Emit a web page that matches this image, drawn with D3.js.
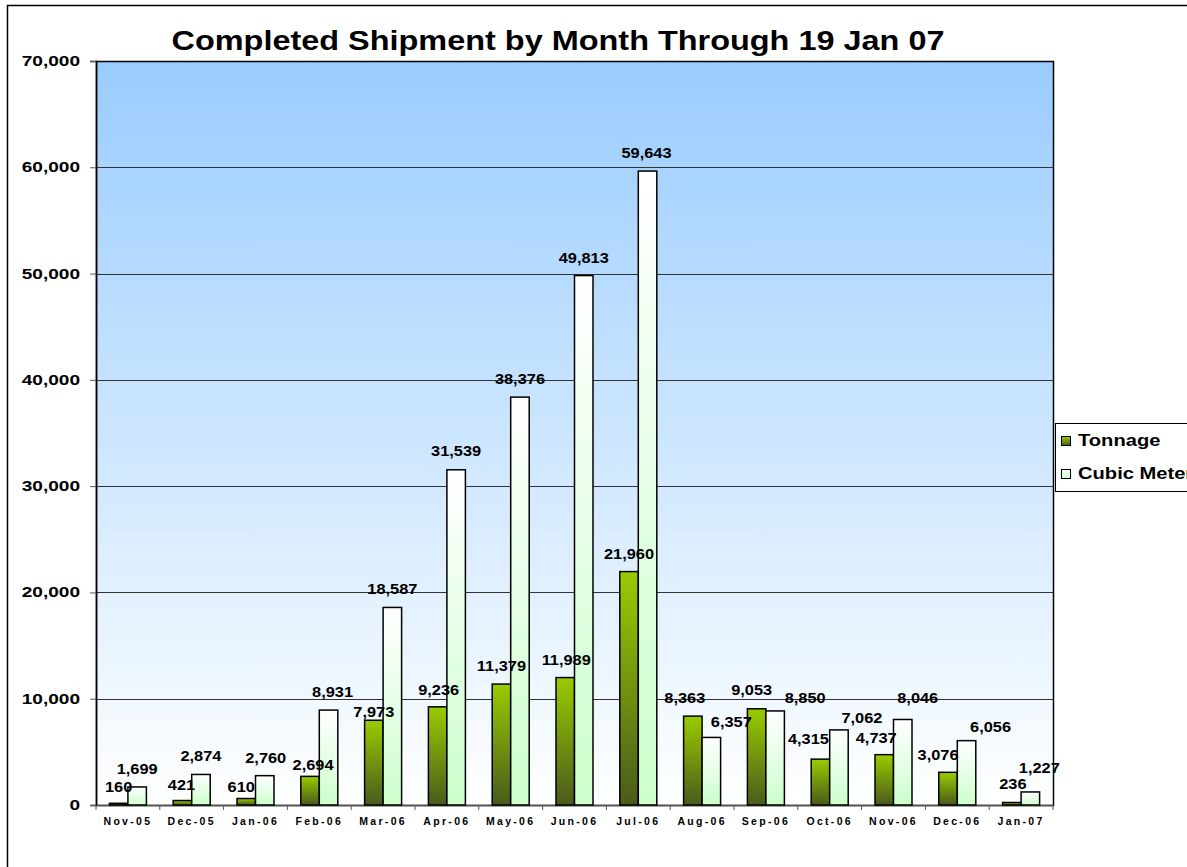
<!DOCTYPE html>
<html>
<head>
<meta charset="utf-8">
<script src="https://cdn.jsdelivr.net/npm/d3@7"></script>
<style>
  body { margin: 0; background: #fff; }
  text { font-family: Arial, "Liberation Sans", sans-serif; font-weight: bold; }
</style>
</head>
<body>
<svg id="chart"></svg>
<script>
// Chart data
const months = ["Nov-05", "Dec-05", "Jan-06", "Feb-06", "Mar-06", "Apr-06", "May-06", "Jun-06",
                "Jul-06", "Aug-06", "Sep-06", "Oct-06", "Nov-06", "Dec-06", "Jan-07"];
const tonnage = [160, 421, 610, 2694, 7973, 9236, 11379, 11989, 21960, 8363, 9053, 4315, 4737, 3076, 236];
const cubicMeters = [1699, 2874, 2760, 8931, 18587, 31539, 38376, 49813, 59643, 6357, 8850, 7062, 8046, 6056, 1227];
const seriesNames = ["Tonnage", "Cubic Meters"];
const yTicks = [0, 10000, 20000, 30000, 40000, 50000, 60000, 70000];

// Layout only: small nudges Excel gave some value labels (px, [dx, dy])
const tonNudge = [[0, 2], [-1, 2], [-5, 6], [3, 7], [0, 10], [1, 1], [0, 0], [1, 0],
                  [0, 0], [-8, 0], [-5, -1], [-12, -2], [-8, 1], [-10, 1], [1, 0]];
const cubNudge = [[0, 0], [0, 0], [1, 0], [4, 0], [0, 0], [0, -1], [0, 0], [0, 0],
                  [-1, 0], [20, 3], [30, 5], [23, 6], [15, -3], [24, 4], [9, -6]];

const width = 1187;
const height = 867;
const plot = { left: 96, right: 1053, top: 61, bottom: 805 };

const svg = d3.select("#chart")
    .attr("width", width)
    .attr("height", height);

// stretch text horizontally (the original renders wide glyphs)
function stretch(sel, factor) {
    sel.each(function() {
        const w = this.getComputedTextLength();
        d3.select(this).attr("textLength", w * factor).attr("lengthAdjust", "spacingAndGlyphs");
    });
}

// Gradients
const defs = svg.append("defs");
function vGrad(id, stops) {
    const g = defs.append("linearGradient").attr("id", id)
        .attr("x1", 0).attr("y1", 0).attr("x2", 0).attr("y2", 1);
    stops.forEach(s => g.append("stop").attr("offset", s[0]).attr("stop-color", s[1]));
}
vGrad("bgGrad", [[0, "#99ccff"], [1, "#ffffff"]]);
vGrad("tonGrad", [[0, "#99cc00"], [1, "#4a5a1c"]]);
vGrad("cubGrad", [[0, "#ffffff"], [1, "#ccffcc"]]);

// Outer border (runs off the right/bottom edges)
svg.append("rect")
    .attr("x", 7.5).attr("y", 5.5)
    .attr("width", 1200).attr("height", 900)
    .attr("fill", "none").attr("stroke", "#000").attr("stroke-width", 1.5);

// Scales
const x = d3.scaleBand().domain(months).range([plot.left, plot.right]).padding(0);
const y = d3.scaleLinear().domain([0, 70000]).range([plot.bottom, plot.top]);
const barW = 18.5;

// Plot background
svg.append("rect")
    .attr("x", plot.left).attr("y", plot.top)
    .attr("width", plot.right - plot.left).attr("height", plot.bottom - plot.top)
    .attr("fill", "url(#bgGrad)");

// Grid lines
svg.append("g")
    .selectAll("line")
    .data(yTicks.filter(d => d > 0))
    .enter().append("line")
    .attr("x1", plot.left).attr("x2", plot.right)
    .attr("y1", d => Math.round(y(d)) + 0.5).attr("y2", d => Math.round(y(d)) + 0.5)
    .attr("stroke", "#333").attr("stroke-width", 1);

// Plot border
svg.append("rect")
    .attr("x", plot.left + 0.5).attr("y", plot.top + 0.5)
    .attr("width", plot.right - plot.left).attr("height", plot.bottom - plot.top)
    .attr("fill", "none").attr("stroke", "#000").attr("stroke-width", 1.5);

// Y axis
const yAxis = svg.append("g")
    .attr("transform", `translate(${plot.left},0)`)
    .call(d3.axisLeft(y).tickValues(yTicks).tickSize(6).tickPadding(10).tickFormat(d3.format(",")));
yAxis.select(".domain").attr("stroke", "#000").attr("stroke-width", 1.5);
yAxis.selectAll(".tick line").attr("stroke", "#555");
yAxis.selectAll("text")
    .attr("font-size", 14).attr("font-family", "Arial, 'Liberation Sans', sans-serif")
    .attr("font-weight", "bold").attr("fill", "#000")
    .call(stretch, 1.36);

// X axis
const xAxis = svg.append("g")
    .attr("transform", `translate(0,${plot.bottom})`)
    .call(d3.axisBottom(x).tickSize(0).tickPadding(12));
xAxis.select(".domain").attr("stroke", "#555").attr("stroke-width", 1.5);
xAxis.selectAll("text")
    .attr("font-size", 10.5).attr("font-family", "Arial, 'Liberation Sans', sans-serif")
    .attr("font-weight", "bold").attr("fill", "#000")
    .attr("dy", "0.8em")
    .style("letter-spacing", "2.3px");
// category boundary ticks
xAxis.append("g")
    .selectAll("line")
    .data(months.concat(["end"]))
    .enter().append("line")
    .attr("x1", (d, i) => plot.left + i * x.bandwidth())
    .attr("x2", (d, i) => plot.left + i * x.bandwidth())
    .attr("y1", 0).attr("y2", 5)
    .attr("stroke", "#555");

// Bars
const rows = months.map((m, i) => ({ month: m, i: i, ton: tonnage[i], cub: cubicMeters[i] }));
const bars = svg.append("g");
bars.selectAll(".ton")
    .data(rows)
    .enter().append("rect")
    .attr("class", "ton")
    .attr("x", d => x(d.month) + x.bandwidth() / 2 - barW)
    .attr("y", d => y(d.ton))
    .attr("width", barW)
    .attr("height", d => y(0) - y(d.ton))
    .attr("fill", "url(#tonGrad)")
    .attr("stroke", "#000").attr("stroke-width", 1.5);
bars.selectAll(".cub")
    .data(rows)
    .enter().append("rect")
    .attr("class", "cub")
    .attr("x", d => x(d.month) + x.bandwidth() / 2)
    .attr("y", d => y(d.cub))
    .attr("width", barW)
    .attr("height", d => y(0) - y(d.cub))
    .attr("fill", "url(#cubGrad)")
    .attr("stroke", "#000").attr("stroke-width", 1.5);

// Value labels
const fmt = d3.format(",");
const labels = svg.append("g").attr("font-size", 14).attr("fill", "#000").attr("text-anchor", "middle");
labels.selectAll(".tonLbl")
    .data(rows)
    .enter().append("text")
    .attr("x", d => x(d.month) + x.bandwidth() / 2 - barW / 2 + tonNudge[d.i][0])
    .attr("y", d => y(d.ton) - 13 + tonNudge[d.i][1])
    .text(d => fmt(d.ton))
    .call(stretch, 1.17);
labels.selectAll(".cubLbl")
    .data(rows)
    .enter().append("text")
    .attr("x", d => x(d.month) + x.bandwidth() / 2 + barW / 2 + cubNudge[d.i][0])
    .attr("y", d => y(d.cub) - 13 + cubNudge[d.i][1])
    .text(d => fmt(d.cub))
    .call(stretch, 1.17);

// Title
svg.append("text")
    .attr("x", 558).attr("y", 50)
    .attr("text-anchor", "middle")
    .attr("font-size", 28)
    .attr("textLength", 773).attr("lengthAdjust", "spacingAndGlyphs")
    .text("Completed Shipment by Month Through 19 Jan 07");

// Legend
const legend = svg.append("g");
legend.append("rect")
    .attr("x", 1055.5).attr("y", 423.5)
    .attr("width", 160).attr("height", 68)
    .attr("fill", "#fff").attr("stroke", "#000").attr("stroke-width", 1);
const legendFills = ["url(#tonGrad)", "url(#cubGrad)"];
seriesNames.forEach((name, i) => {
    legend.append("rect")
        .attr("x", 1061.5).attr("y", 436.5 + i * 33)
        .attr("width", 9).attr("height", 9)
        .attr("fill", legendFills[i]).attr("stroke", "#000");
    legend.append("text")
        .attr("x", 1078).attr("y", 446 + i * 33)
        .attr("font-size", 16.5)
        .text(name)
        .call(stretch, 1.22);
});
</script>
</body>
</html>
